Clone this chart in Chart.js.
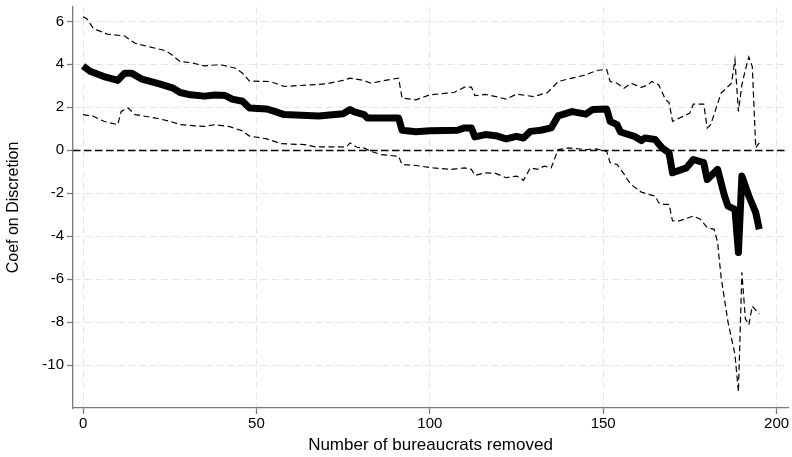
<!DOCTYPE html>
<html>
<head>
<meta charset="utf-8">
<script src="https://cdn.jsdelivr.net/npm/chart.js@4/dist/chart.umd.min.js"></script>
<style>
  html, body { margin: 0; padding: 0; background: #fff; }
  canvas { display: block; }
</style>
</head>
<body>
<canvas id="c" width="792" height="457"></canvas>
<script>
// Point estimate of the coefficient on Discretion as bureaucrats are dropped
const coefX = [0, 2, 6, 9, 10, 12, 14, 17, 22, 26, 28, 31, 35, 38, 41, 43, 46, 48, 53, 55, 58, 68, 75, 77, 78, 81, 82, 91, 92, 96, 100, 108, 110, 112, 113, 116, 119, 122, 125, 127, 129, 132, 135, 137, 141, 145, 147, 151, 152, 154, 155, 159, 161, 162, 165, 167, 169, 170, 174, 176, 179, 180, 183, 185, 186, 188, 189, 190, 192, 194, 195];
const coefY = [3.92, 3.68, 3.43, 3.3, 3.25, 3.59, 3.59, 3.31, 3.09, 2.89, 2.69, 2.58, 2.52, 2.57, 2.55, 2.38, 2.28, 1.97, 1.92, 1.82, 1.66, 1.6, 1.7, 1.9, 1.8, 1.66, 1.5, 1.5, 0.93, 0.86, 0.91, 0.93, 1.04, 1.04, 0.62, 0.73, 0.68, 0.53, 0.65, 0.57, 0.88, 0.93, 1.04, 1.6, 1.8, 1.68, 1.9, 1.92, 1.35, 1.19, 0.85, 0.65, 0.45, 0.57, 0.5, 0.11, -0.12, -1.05, -0.82, -0.43, -0.58, -1.36, -0.89, -2.13, -2.6, -2.75, -4.76, -1.2, -2.13, -2.9, -3.68];

// Upper bound of the confidence interval
const upperX = [0, 1, 3, 7, 12, 15, 19, 23, 25, 28, 31, 35, 38, 40, 44, 46, 48, 54, 58, 70, 75, 77, 81, 83, 88, 91, 92, 96, 100, 107, 110, 112, 113, 116, 119, 122, 125, 130, 134, 137, 141, 145, 148, 151, 152, 154, 156, 158, 161, 163, 164, 166, 168, 169, 170, 172, 175, 176, 179, 180, 181, 184, 186, 187, 188, 189, 190, 191, 192, 193, 194, 195];
const upperY = [6.21, 6.14, 5.67, 5.41, 5.32, 4.98, 4.82, 4.67, 4.52, 4.13, 4.08, 3.93, 3.97, 3.97, 3.82, 3.59, 3.22, 3.2, 2.97, 3.09, 3.25, 3.36, 3.25, 3.12, 3.28, 3.36, 2.43, 2.35, 2.58, 2.69, 2.94, 2.94, 2.54, 2.6, 2.5, 2.38, 2.61, 2.5, 2.69, 3.2, 3.36, 3.51, 3.71, 3.77, 3.2, 3.12, 2.89, 3.12, 2.93, 3.05, 3.2, 3.05, 2.35, 2.23, 1.35, 1.5, 1.73, 2.15, 2.15, 1.04, 1.19, 2.66, 2.97, 3.12, 4.2, 1.81, 3.05, 3.74, 4.34, 3.9, 0.11, 0.34];

// Lower bound of the confidence interval
const lowerX = [0, 3, 6, 10, 11, 13, 15, 21, 25, 28, 35, 38, 42, 46, 48, 53, 57, 64, 67, 76, 77, 79, 81, 83, 86, 91, 92, 96, 101, 106, 110, 112, 113, 116, 119, 122, 125, 127, 129, 131, 133, 135, 137, 140, 145, 148, 151, 152, 154, 156, 157, 158, 161, 163, 165, 166, 167, 169, 170, 172, 176, 178, 180, 182, 183, 184, 186, 188, 189, 190, 191, 192, 193, 195];
const lowerY = [1.66, 1.58, 1.35, 1.19, 1.81, 1.97, 1.66, 1.5, 1.35, 1.19, 1.11, 1.19, 1.11, 0.9, 0.66, 0.53, 0.31, 0.26, 0.16, 0.16, 0.34, 0.14, 0.11, -0.05, -0.2, -0.28, -0.66, -0.71, -0.82, -0.89, -0.82, -0.89, -1.17, -1.05, -1.08, -1.28, -1.2, -1.4, -0.82, -0.89, -0.74, -0.82, 0.03, 0.11, 0.03, 0.06, -0.05, -0.58, -0.66, -1.1, -1.36, -1.59, -1.95, -2.05, -2.13, -2.44, -2.52, -2.52, -3.29, -3.29, -3.06, -3.21, -3.6, -3.68, -4.29, -5.9, -8.0, -9.5, -11.25, -5.68, -7.85, -8.13, -7.26, -7.62];

// Axis ticks
const xTickValues = [0, 50, 100, 150, 200];
const yTickValues = [-10, -8, -6, -4, -2, 0, 2, 4, 6];
const referenceLevel = 0;

const FONT = '"Liberation Sans", Arial, Helvetica, sans-serif';
const AXIS_GREY = '#7a7a7a';
const GRID_GREY = '#e6e6e6';

function toPoints(xs, ys) {
  return xs.map((x, i) => ({ x: x, y: ys[i] }));
}

// Dashed horizontal reference line at y = 0 across the plot region
const referenceLine = {
  id: 'referenceLine',
  beforeDatasetsDraw(chart) {
    const { ctx, chartArea, scales } = chart;
    const py = Math.round(scales.y.getPixelForValue(referenceLevel)) + 0.5;
    ctx.save();
    ctx.strokeStyle = '#000';
    ctx.lineWidth = 1.3;
    ctx.setLineDash([7.5, 3.5]);
    ctx.beginPath();
    ctx.moveTo(chartArea.left, py);
    ctx.lineTo(chartArea.right, py);
    ctx.stroke();
    ctx.restore();
  }
};

const ciStyle = {
  showLine: true,
  borderColor: '#000',
  borderWidth: 1.2,
  borderDash: [6, 3.5],
  pointRadius: 0,
  tension: 0,
  fill: false
};

new Chart(document.getElementById('c').getContext('2d'), {
  type: 'scatter',
  data: {
    datasets: [
      Object.assign({ label: 'Upper', data: toPoints(upperX, upperY) }, ciStyle),
      Object.assign({ label: 'Lower', data: toPoints(lowerX, lowerY) }, ciStyle),
      {
        label: 'Coef on Discretion',
        data: toPoints(coefX, coefY),
        showLine: true,
        borderColor: '#000',
        borderWidth: 7,
        borderJoinStyle: 'round',
        borderCapStyle: 'butt',
        pointRadius: 0,
        tension: 0,
        fill: false
      }
    ]
  },
  options: {
    responsive: false,
    animation: false,
    devicePixelRatio: 1,
    layout: { padding: { left: 0, right: 4, top: 7, bottom: 0 } },
    plugins: {
      legend: { display: false },
      tooltip: { enabled: false }
    },
    scales: {
      x: {
        type: 'linear',
        min: -2.9,
        max: 203.3,
        afterBuildTicks(scale) { scale.ticks = xTickValues.map(v => ({ value: v })); },
        afterFit(scale) {
          scale.height = 49;
          scale.paddingLeft = 0;
          scale.paddingRight = 0;
        },
        ticks: {
          color: '#000',
          font: { family: FONT, size: 15 },
          padding: 1,
          maxRotation: 0,
          autoSkip: false
        },
        grid: {
          color: GRID_GREY,
          lineWidth: 1,
          tickLength: 6,
          tickColor: AXIS_GREY,
          tickWidth: 1.3
        },
        border: { display: true, color: AXIS_GREY, width: 1.3, dash: [7, 4] },
        title: {
          display: true,
          text: 'Number of bureaucrats removed',
          color: '#000',
          font: { family: FONT, size: 17 },
          padding: { top: 0, bottom: 1 }
        }
      },
      y: {
        type: 'linear',
        min: -12,
        max: 6.67,
        afterBuildTicks(scale) { scale.ticks = yTickValues.map(v => ({ value: v })); },
        afterFit(scale) {
          scale.width = 73;
          scale.paddingTop = 0;
          scale.paddingBottom = 0;
        },
        ticks: {
          color: '#000',
          font: { family: FONT, size: 15 },
          padding: 3,
          autoSkip: false
        },
        grid: {
          color: GRID_GREY,
          lineWidth: 1,
          tickLength: 6,
          tickColor: AXIS_GREY,
          tickWidth: 1.3
        },
        border: { display: true, color: AXIS_GREY, width: 1.3, dash: [7, 4] },
        title: {
          display: true,
          text: 'Coef on Discretion',
          color: '#000',
          font: { family: FONT, size: 16 },
          padding: { top: 4, bottom: 0 }
        }
      }
    }
  },
  plugins: [referenceLine]
});
</script>
</body>
</html>
